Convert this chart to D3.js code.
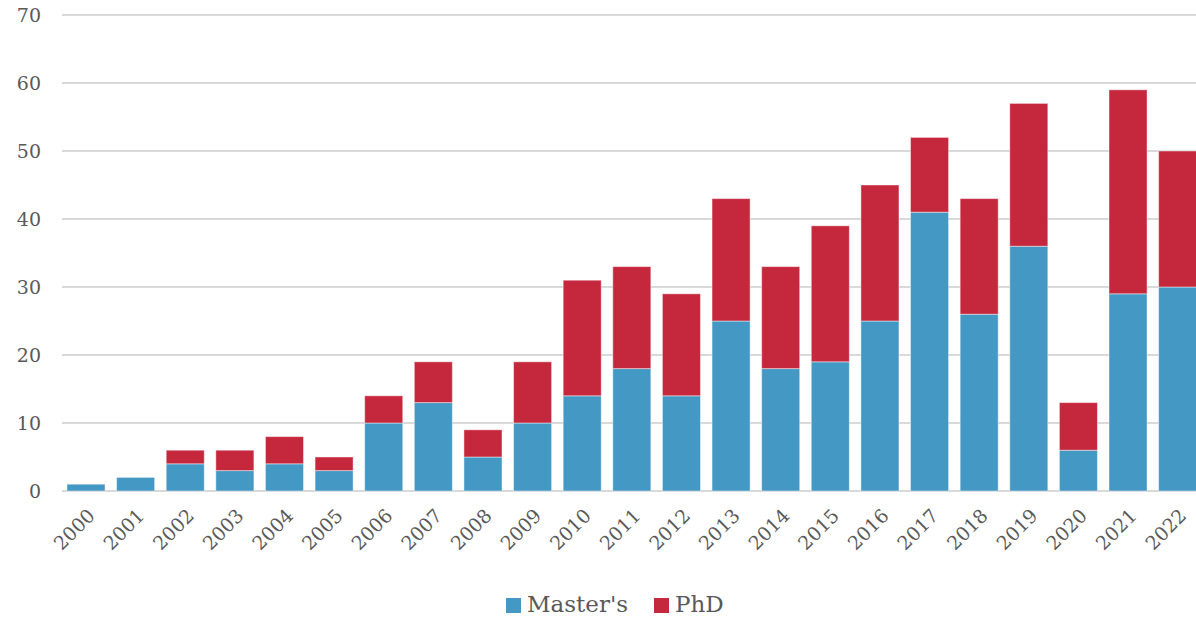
<!DOCTYPE html>
<html>
<head>
<meta charset="utf-8">
<script src="https://cdn.jsdelivr.net/npm/d3@7"></script>
<style>
  html, body { margin: 0; padding: 0; background: #fff; }
  svg { display: block; }
  text { font-family: "DejaVu Serif", "Liberation Serif", serif; fill: #595959; }
</style>
</head>
<body>
<svg id="chart" width="1196" height="619"></svg>
<script>
// Graduates per year, split by degree
const years = ["2000","2001","2002","2003","2004","2005","2006","2007","2008","2009","2010","2011",
               "2012","2013","2014","2015","2016","2017","2018","2019","2020","2021","2022"];
const masters = [1, 2, 4, 3, 4, 3, 10, 13, 5, 10, 14, 18, 14, 25, 18, 19, 25, 41, 26, 36, 6, 29, 30];
const phd     = [0, 0, 2, 3, 4, 2, 4, 6, 4, 9, 17, 15, 15, 18, 15, 20, 20, 11, 17, 21, 7, 30, 20];
const seriesNames = ["Master's", "PhD"];
const yTicks = [0, 10, 20, 30, 40, 50, 60, 70];

const colors = { "Master's": "#4398c4", "PhD": "#c5283d" };

const svg = d3.select("#chart");
const chartW = 1196;
const plotLeft = 62, plotBottom = 491, plotTop = 15;
const step = 49.55;

const rows = years.map((yr, i) => ({ year: yr, "Master's": masters[i], "PhD": phd[i] }));
const stacked = d3.stack().keys(seriesNames)(rows);

const x = d3.scaleBand().domain(years)
  .range([plotLeft, plotLeft + step * years.length])
  .paddingInner(0.233).paddingOuter(0.1);
const y = d3.scaleLinear().domain([0, 70]).range([plotBottom, plotTop]);

// Horizontal gridlines
svg.append("g")
  .selectAll("line")
  .data(yTicks)
  .join("line")
  .attr("x1", plotLeft).attr("x2", chartW)
  .attr("y1", d => y(d)).attr("y2", d => y(d))
  .attr("stroke", "#d9d9d9").attr("stroke-width", 2);

// Y axis labels
const yAxis = svg.append("g")
  .attr("transform", `translate(${plotLeft},0)`)
  .call(d3.axisLeft(y).tickValues(yTicks).tickSize(0).tickPadding(21));
yAxis.select(".domain").remove();
yAxis.selectAll("text")
  .style("font-family", "'DejaVu Serif', serif")
  .style("font-size", "19px")
  .attr("fill", "#595959");

// Stacked bars
svg.append("g")
  .selectAll("g")
  .data(stacked)
  .join("g")
  .attr("fill", d => colors[d.key])
  .selectAll("rect")
  .data(d => d.filter(s => s[1] - s[0] > 0))
  .join("rect")
  .attr("x", d => x(d.data.year))
  .attr("width", x.bandwidth())
  .attr("y", d => y(d[1]))
  .attr("height", d => y(d[0]) - y(d[1]))
  .attr("stroke", "rgba(255,255,255,0.45)")
  .attr("stroke-width", 1);

// X axis labels, rotated
const xAxis = svg.append("g")
  .attr("transform", `translate(0,${y(0)})`)
  .call(d3.axisBottom(x).tickSize(0).tickPadding(0));
xAxis.select(".domain").remove();
xAxis.selectAll("text")
  .style("font-family", "'DejaVu Serif', serif")
  .style("font-size", "19px")
  .attr("fill", "#595959")
  .attr("text-anchor", "end")
  .attr("dy", 0)
  .attr("transform", "translate(10,26) rotate(-45)");

// Legend
const legend = svg.append("g").attr("transform", "translate(506,0)");
const items = [
  { name: "Master's", x: 0 },
  { name: "PhD", x: 148 }
];
items.forEach(it => {
  legend.append("rect")
    .attr("x", it.x).attr("y", 598)
    .attr("width", 15).attr("height", 15)
    .attr("fill", colors[it.name]);
  legend.append("text")
    .attr("x", it.x + 21).attr("y", 612)
    .style("font-size", "23px")
    .text(it.name);
});
</script>
</body>
</html>
